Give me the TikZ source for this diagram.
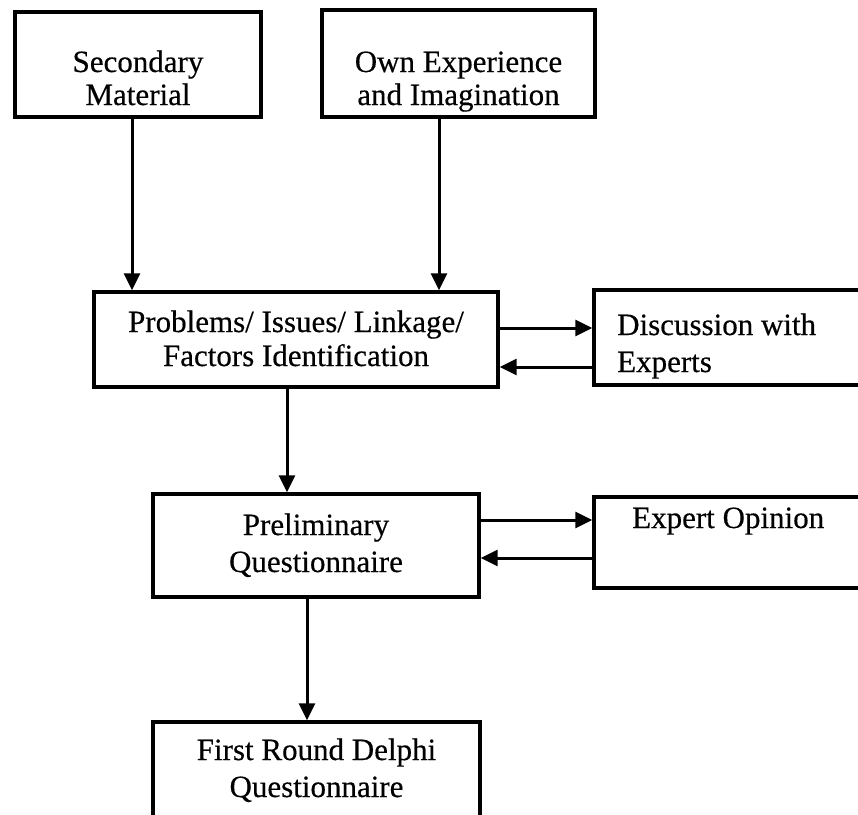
\documentclass[tikz,border=0pt]{standalone}
\usepackage{fontspec}
\setmainfont{Liberation Serif}[FakeBold=0.4]
\usetikzlibrary{arrows.meta}
\begin{document}
\begin{tikzpicture}[x=1pt,y=-1pt,
  box/.style={draw, line width=3.4pt, rectangle, inner sep=0pt},
  lbl/.style={font=\fontsize{31}{33}\selectfont, align=center, inner sep=0pt, anchor=base},
  lbll/.style={lbl, align=left, anchor=base west},
  arr/.style={line width=3pt, -{Triangle[length=17pt,width=16pt]}}]
\useasboundingbox (0,0) rectangle (858,814);
\fill[white] (0,0) rectangle (858,814);
\clip (0,0) rectangle (858,814);

% boxes
\node[box, minimum width=246, minimum height=105] (sec)   at (138,64.5)  {};
\node[box, minimum width=273, minimum height=107] (own)   at (458.5,63.5) {};
\node[box, minimum width=404, minimum height=95]  (prob)  at (296,339.5) {};
\node[box, minimum width=306, minimum height=95]  (disc)  at (747,337.5) {};
\node[box, minimum width=326, minimum height=103] (prel)  at (316,545.5) {};
\node[box, minimum width=306, minimum height=91]  (exp)   at (747,542.5) {};
\node[box, minimum width=327, minimum height=118] (first) at (316.5,781) {};

% labels (anchored at the baseline of their last line)
\node[lbl]  (secT)   at (138,105)   {Secondary\\Material};
\node[lbl]  (ownT)   at (458.5,105) {Own Experience\\and Imagination};
\node[lbl]  (probT)  at (296,366)   {Problems/ Issues/ Linkage/\\[1pt]Factors Identification};
\node[lbll] (discT)  at (617,372)   {Discussion with\\[4pt]Experts};
\node[lbl]  (prelT)  at (316,572)   {Preliminary\\[4pt]Questionnaire};
\node[lbll] (expT)   at (632,528)   {Expert Opinion};
\node[lbl]  (firstT) at (316.5,797) {First Round Delphi\\[4pt]Questionnaire};

% connectors
\draw[arr] ([xshift=-6pt]sec.south) -- ([xshift=-6pt]sec.south |- prob.north);
\draw[arr] ([xshift=-19.5pt]own.south) -- ([xshift=-19.5pt]own.south |- prob.north);
\draw[arr] ([yshift=11.5pt]prob.east) -- ([yshift=11.5pt]prob.east -| disc.west);
\draw[arr] ([yshift=-27.5pt]prob.east -| disc.west) -- ([yshift=-27.5pt]prob.east);
\draw[arr] ([xshift=-9pt]prob.south) -- ([xshift=-9pt]prob.south |- prel.north);
\draw[arr] ([yshift=25.5pt]prel.east) -- ([yshift=25.5pt]prel.east -| exp.west);
\draw[arr] ([yshift=-12.5pt]prel.east -| exp.west) -- ([yshift=-12.5pt]prel.east);
\draw[arr] ([xshift=-9pt]prel.south) -- ([xshift=-9pt]prel.south |- first.north);
\end{tikzpicture}
\end{document}
